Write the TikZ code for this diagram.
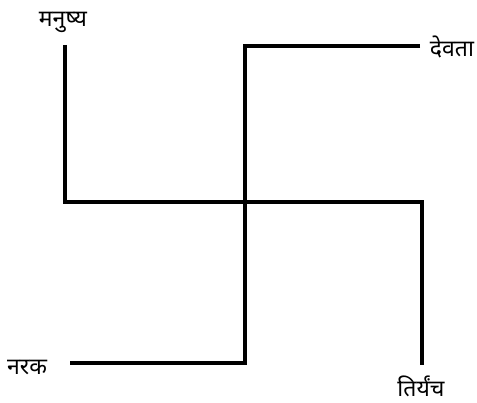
\documentclass[tikz,border=0pt]{standalone}
\usepackage{fontspec}
\newfontfamily\devfont[Script=Devanagari]{Noto Sans}
\begin{document}
\begin{tikzpicture}[x=1pt,y=-1pt,
  arm/.style={line width=4pt,line join=miter,line cap=butt},
  lbl/.style={font=\devfont\fontsize{23}{26}\selectfont,inner sep=0pt}]
\useasboundingbox (0,0) rectangle (477,403);
% coordinates
\coordinate (tl) at (65,45);
\coordinate (ml) at (65,202);
\coordinate (mr) at (422,202);
\coordinate (br) at (422,365);
\coordinate (ct) at (245,46);
\coordinate (tr) at (420,46);
\coordinate (cb) at (245,363);
\coordinate (bl) at (70,363);
% arms
\draw[arm] (tl) -- (ml) -- (mr) -- (br);
\draw[arm] (tr) -- (ct) -- (cb) -- (bl);
% labels
\node[lbl] (manushya) at (63,22) {मनुष्य};
\node[lbl] (devata) at (452,47) {देवता};
\node[lbl] (narak) at (27,367) {नरक};
\node[lbl] (tiryanch) at (421,386) {तिर्यंच};
\end{tikzpicture}
\end{document}
